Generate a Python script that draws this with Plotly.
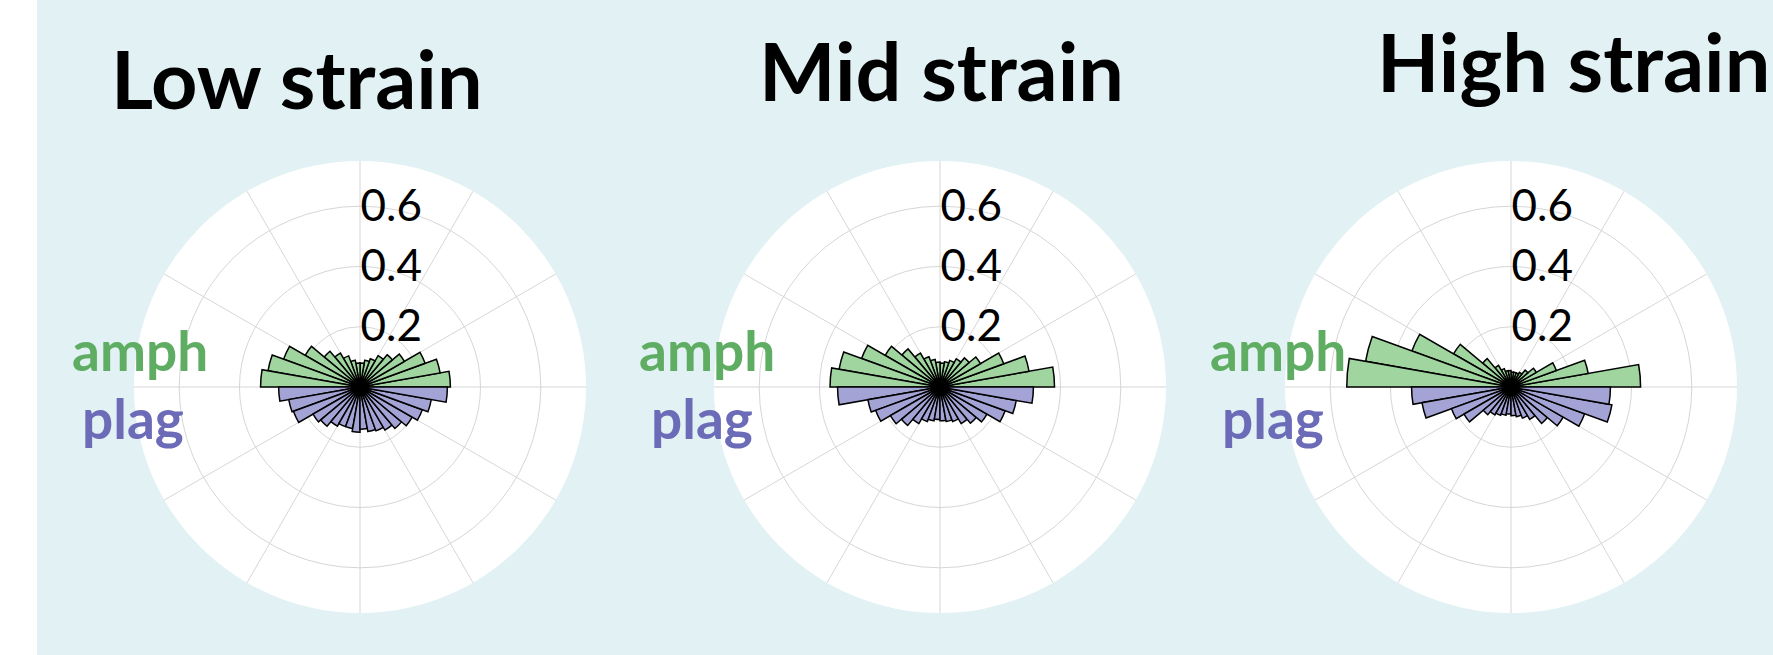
import plotly.graph_objects as go

W, H = 1773, 655

# bin centres (degrees), 10 degree bins
amph_theta = [5, 15, 25, 35, 45, 55, 65, 75, 85, 95, 105, 115, 125, 135, 145, 155, 165, 175]
plag_theta = [185, 195, 205, 215, 225, 235, 245, 255, 265, 275, 285, 295, 305, 315, 325, 335, 345, 355]

# frequencies
low_amph = [0.30, 0.27, 0.23, 0.17, 0.14, 0.12, 0.10, 0.09, 0.08, 0.08, 0.09, 0.11, 0.13, 0.155, 0.21, 0.27, 0.31, 0.33]
low_plag = [0.27, 0.24, 0.235, 0.18, 0.17, 0.15, 0.14, 0.14, 0.15, 0.14, 0.15, 0.155, 0.165, 0.18, 0.20, 0.22, 0.24, 0.29]

mid_amph = [0.38, 0.30, 0.225, 0.155, 0.126, 0.108, 0.094, 0.085, 0.08, 0.083, 0.093, 0.107, 0.13, 0.165, 0.21, 0.277, 0.34, 0.365]
mid_plag = [0.34, 0.243, 0.227, 0.19, 0.167, 0.14, 0.122, 0.114, 0.108, 0.112, 0.116, 0.122, 0.14, 0.157, 0.18, 0.23, 0.257, 0.31]

high_amph = [0.43, 0.26, 0.16, 0.097, 0.073, 0.056, 0.05, 0.05, 0.05, 0.055, 0.055, 0.065, 0.083, 0.123, 0.22, 0.35, 0.49, 0.545]
high_plag = [0.33, 0.30, 0.21, 0.18, 0.12, 0.107, 0.10, 0.095, 0.09, 0.095, 0.10, 0.11, 0.124, 0.158, 0.20, 0.26, 0.34, 0.33]

titles = ["Low strain", "Mid strain", "High strain"]
radial_ticks = [0.2, 0.4, 0.6]

AMPH_FILL = "#a0d5a0"
PLAG_FILL = "#a3a3d5"
AMPH_TXT = "#5fad62"
PLAG_TXT = "#6b6bb8"
FONT = "Lato"

panels = [(low_amph, low_plag), (mid_amph, mid_plag), (high_amph, high_plag)]
centres = [360, 940, 1511]   # pixel x of each rose centre
cy = 387                      # pixel y of the centres
R = 226                       # pixel radius

fig = go.Figure()

layout_polars = {}
for i, (amph, plag) in enumerate(panels):
    name = "polar" if i == 0 else f"polar{i+1}"
    fig.add_trace(go.Barpolar(r=amph, theta=amph_theta, width=10, subplot=name,
                              marker=dict(color=AMPH_FILL, line=dict(color="black", width=1.5)),
                              showlegend=False))
    fig.add_trace(go.Barpolar(r=plag, theta=plag_theta, width=10, subplot=name,
                              marker=dict(color=PLAG_FILL, line=dict(color="black", width=1.5)),
                              showlegend=False))
    cx = centres[i]
    layout_polars[name] = dict(
        domain=dict(x=[(cx - R) / W, (cx + R) / W],
                    y=[(H - cy - R) / H, (H - cy + R) / H]),
        bgcolor="white",
        bargap=0,
        radialaxis=dict(range=[0, 0.75], tickvals=radial_ticks, ticktext=[str(t) for t in radial_ticks],
                        angle=90, showline=False, ticks="", ticklen=0, gridcolor="#d6d6d6", gridwidth=1,
                        tickfont=dict(family=FONT, size=44, color="black"), tickangle=90),
        angularaxis=dict(dtick=30, showticklabels=False, ticks="", showline=False,
                         gridcolor="#d6d6d6", gridwidth=1, rotation=0, direction="counterclockwise"),
    )

annotations = []
title_pos = [(297, 78), (942, 70), (1375, 60)]
for (x, y), t in zip(title_pos, titles):
    annotations.append(dict(text=f"<b>{t}</b>", x=x / W, y=1 - y / H, xref="paper", yref="paper",
                            xanchor="left" if t == "High strain" else "center", yanchor="middle",
                            showarrow=False, font=dict(family=FONT, size=81, color="black")))
label_x = [(140, 133), (707, 702), (1278, 1273)]
for ax, px in label_x:
    annotations.append(dict(text="<b>amph</b>", x=ax / W, y=1 - 350 / H, xref="paper", yref="paper",
                            xanchor="center", yanchor="middle", showarrow=False,
                            font=dict(family=FONT, size=55, color=AMPH_TXT)))
    annotations.append(dict(text="<b>plag</b>", x=px / W, y=1 - 418 / H, xref="paper", yref="paper",
                            xanchor="center", yanchor="middle", showarrow=False,
                            font=dict(family=FONT, size=55, color=PLAG_TXT)))

fig.update_layout(
    width=W, height=H,
    margin=dict(l=0, r=0, t=0, b=0),
    paper_bgcolor="#e1f1f4",
    annotations=annotations,
    shapes=[dict(type="rect", xref="paper", yref="paper", x0=0, x1=37 / W, y0=0, y1=1,
                 fillcolor="white", line=dict(width=0), layer="below")],
    **layout_polars,
)

fig.write_html("out.html", config={"displayModeBar": False},
               post_script="document.body.style.margin='0';")
